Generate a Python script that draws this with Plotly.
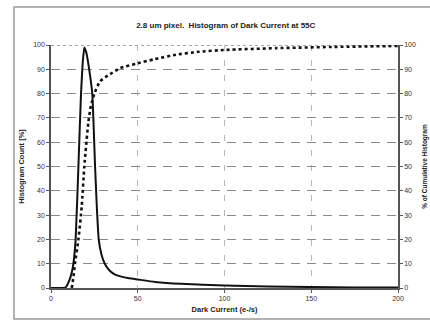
import plotly.graph_objects as go

# Histogram (solid line)
hist_x = [0, 5, 8.5, 10.5, 12, 12.9, 14.2, 15.8, 17.3, 18.3, 19.2, 20.3, 22, 23.8, 25.4, 26.5, 27.5, 29, 31, 34, 37, 40, 45, 50, 60, 75, 100, 125, 150, 175, 200]
hist_y = [0, 0, 0.3, 3, 6.5, 10, 20, 50, 80, 93, 99, 97, 90, 80, 50, 32, 20, 14, 10, 7, 5.5, 4.8, 4.0, 3.5, 2.5, 1.7, 1.0, 0.6, 0.4, 0.25, 0.2]

# Cumulative histogram (dotted line)
cum_x = [12, 13, 13.8, 15.8, 17.7, 19.2, 21.5, 23, 25, 28.2, 34, 40, 49, 60, 72, 85, 101, 130, 162, 200]
cum_y = [0, 5, 10, 20, 33.5, 50, 68, 75, 80, 85, 88, 90.5, 92.3, 94.2, 96, 97.2, 98, 98.7, 99.2, 99.6]

x_ticks = [0, 50, 100, 150, 200]
y_ticks = [0, 10, 20, 30, 40, 50, 60, 70, 80, 90, 100]

font_family = "Liberation Sans, Arial, sans-serif"

fig = go.Figure()
fig.add_trace(go.Scatter(x=hist_x, y=hist_y, mode="lines",
                         line=dict(color="#111111", width=2, shape="spline", smoothing=0.4),
                         name="Histogram", showlegend=False))
fig.add_trace(go.Scatter(x=cum_x, y=cum_y, mode="lines", yaxis="y2",
                         line=dict(color="#111111", width=2.6, dash="dot", shape="spline", smoothing=0.5),
                         name="Cumulative", showlegend=False))

tickfont = dict(family=font_family, size=7, color="#333333")

fig.update_layout(
    width=430, height=321,
    margin=dict(l=51, r=32, t=45, b=33),
    paper_bgcolor="white", plot_bgcolor="white",
    title=dict(text="<b>2.8 um pixel.  Histogram of Dark Current at 55C</b>",
               x=0.525, xanchor="center", y=1 - 25 / 321, yanchor="middle",
               font=dict(family=font_family, size=8, color="#222222")),
    xaxis=dict(range=[0, 200], tickvals=x_ticks, ticktext=[str(v) for v in x_ticks],
               automargin=False,
               showgrid=True, gridcolor="#b8b8b8", griddash="6px,9px", gridwidth=1,
               showline=True, linecolor="#555555", linewidth=1.5,
               ticks="outside", ticklen=3, tickcolor="#555555",
               tickfont=tickfont, zeroline=False,
               title=dict(text="<b>Dark Current (e-/s)</b>", standoff=6,
                          font=dict(family=font_family, size=7.5, color="#222222"))),
    yaxis=dict(range=[0, 100], tickvals=y_ticks, automargin=False,
               showgrid=True, gridcolor="#8a8a8a", griddash="9px,7px", gridwidth=1.3,
               showline=True, linecolor="#555555", linewidth=1.5,
               ticks="outside", ticklen=3, tickcolor="#555555",
               tickfont=tickfont, zeroline=False,
               title=dict(text="<b>Histogram Count [%]</b>", standoff=8,
                          font=dict(family=font_family, size=7.5, color="#222222"))),
    yaxis2=dict(range=[0, 100], tickvals=y_ticks, overlaying="y", side="right",
                automargin=False,
                showgrid=False, showline=True, linecolor="#555555", linewidth=1.5,
                ticks="outside", ticklen=3, tickcolor="#555555",
                tickfont=tickfont, zeroline=False,
                title=dict(text="<b>% of Cumulative Histogram</b>", standoff=8,
                           font=dict(family=font_family, size=6.5, color="#222222"))),
    shapes=[
        # white-out the dashed gridline at 100 and replace with a dotted line
        dict(type="line", xref="paper", yref="y", x0=0, x1=1, y0=100, y1=100,
             line=dict(color="white", width=2), layer="between"),
        dict(type="line", xref="paper", yref="y", x0=0, x1=1, y0=100, y1=100,
             line=dict(color="#8a8a8a", width=1.3, dash="dot"), layer="between"),
        # outer chart frame
        dict(type="rect", xref="paper", yref="paper",
             x0=-37 / 347, x1=1 + 60 / 347, y0=-31 / 243, y1=1 + 38 / 243,
             line=dict(color="#9a9a9a", width=1.5), layer="below"),
    ],
)

fig.write_html("out.html")
